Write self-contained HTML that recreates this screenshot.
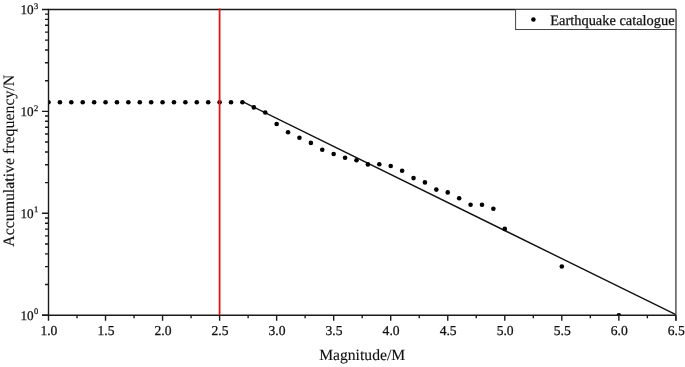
<!DOCTYPE html><html><head><meta charset="utf-8"><style>html,body{margin:0;padding:0;background:#fff;width:685px;height:367px;overflow:hidden}svg{display:block}text{font-family:"Liberation Serif","Times New Roman",serif;fill:#111;stroke:#111;stroke-width:0.25px;text-rendering:geometricPrecision}</style></head><body>
<svg width="685" height="367" viewBox="0 0 685 367">
<defs><clipPath id="c"><rect x="48.5" y="9.5" width="627.385" height="305.7"/></clipPath></defs>
<line x1="242.1" y1="101.4" x2="675.885" y2="314.7" stroke="#111" stroke-width="1.4"/>
<g clip-path="url(#c)" fill="#000">
<circle cx="48.50" cy="102.20" r="2.3"/>
<circle cx="59.91" cy="102.20" r="2.3"/>
<circle cx="71.31" cy="102.20" r="2.3"/>
<circle cx="82.72" cy="102.20" r="2.3"/>
<circle cx="94.13" cy="102.20" r="2.3"/>
<circle cx="105.53" cy="102.20" r="2.3"/>
<circle cx="116.94" cy="102.20" r="2.3"/>
<circle cx="128.35" cy="102.20" r="2.3"/>
<circle cx="139.76" cy="102.20" r="2.3"/>
<circle cx="151.16" cy="102.20" r="2.3"/>
<circle cx="162.57" cy="102.20" r="2.3"/>
<circle cx="173.98" cy="102.20" r="2.3"/>
<circle cx="185.38" cy="102.20" r="2.3"/>
<circle cx="196.79" cy="102.20" r="2.3"/>
<circle cx="208.20" cy="102.20" r="2.3"/>
<circle cx="219.60" cy="102.20" r="2.3"/>
<circle cx="231.01" cy="102.20" r="2.3"/>
<circle cx="242.42" cy="102.20" r="2.3"/>
<circle cx="253.83" cy="107.40" r="2.3"/>
<circle cx="265.23" cy="112.50" r="2.3"/>
<circle cx="276.64" cy="124.00" r="2.3"/>
<circle cx="288.05" cy="132.20" r="2.3"/>
<circle cx="299.45" cy="137.70" r="2.3"/>
<circle cx="310.86" cy="142.90" r="2.3"/>
<circle cx="322.27" cy="149.70" r="2.3"/>
<circle cx="333.67" cy="154.00" r="2.3"/>
<circle cx="345.08" cy="157.70" r="2.3"/>
<circle cx="356.49" cy="160.30" r="2.3"/>
<circle cx="367.90" cy="164.40" r="2.3"/>
<circle cx="379.30" cy="164.20" r="2.3"/>
<circle cx="390.71" cy="166.00" r="2.3"/>
<circle cx="402.12" cy="170.70" r="2.3"/>
<circle cx="413.52" cy="178.10" r="2.3"/>
<circle cx="424.93" cy="182.40" r="2.3"/>
<circle cx="436.34" cy="189.60" r="2.3"/>
<circle cx="447.75" cy="192.40" r="2.3"/>
<circle cx="459.15" cy="198.30" r="2.3"/>
<circle cx="470.56" cy="204.80" r="2.3"/>
<circle cx="481.97" cy="204.70" r="2.3"/>
<circle cx="493.37" cy="208.80" r="2.3"/>
<circle cx="504.78" cy="228.90" r="2.3"/>
<circle cx="561.81" cy="266.50" r="2.3"/>
<circle cx="618.85" cy="315.20" r="2.3"/>
</g>
<path d="M48.5 315.2V9.5H675.885" fill="none" stroke="#1a1a1a" stroke-width="1.4"/>
<line x1="675.9" y1="9.5" x2="675.9" y2="320.8" stroke="#555" stroke-width="1.5"/>
<line x1="42.0" y1="315.2" x2="675.885" y2="315.2" stroke="#1a1a1a" stroke-width="1.4"/>
<path d="M48.50 315.2v5.6M105.53 315.2v5.6M162.57 315.2v5.6M219.60 315.2v5.6M276.64 315.2v5.6M333.67 315.2v5.6M390.71 315.2v5.6M447.75 315.2v5.6M504.78 315.2v5.6M561.81 315.2v5.6M618.85 315.2v5.6M675.88 315.2v5.6M77.02 315.2v3M134.05 315.2v3M191.09 315.2v3M248.12 315.2v3M305.16 315.2v3M362.19 315.2v3M419.23 315.2v3M476.26 315.2v3M533.30 315.2v3M590.33 315.2v3M647.37 315.2v3M48.5 315.20h-6.5M48.5 284.53h-3.5M48.5 266.58h-3.5M48.5 253.85h-3.5M48.5 243.97h-3.5M48.5 235.91h-3.5M48.5 229.08h-3.5M48.5 223.18h-3.5M48.5 217.96h-3.5M48.5 213.30h-6.5M48.5 182.63h-3.5M48.5 164.68h-3.5M48.5 151.95h-3.5M48.5 142.07h-3.5M48.5 134.01h-3.5M48.5 127.18h-3.5M48.5 121.28h-3.5M48.5 116.06h-3.5M48.5 111.40h-6.5M48.5 80.73h-3.5M48.5 62.78h-3.5M48.5 50.05h-3.5M48.5 40.17h-3.5M48.5 32.11h-3.5M48.5 25.28h-3.5M48.5 19.38h-3.5M48.5 14.16h-3.5M48.5 9.50h-6.5" stroke="#1a1a1a" stroke-width="1.4" fill="none"/>
<line x1="219.605" y1="8.5" x2="219.605" y2="315.2" stroke="#e8141a" stroke-width="1.8"/>
<text x="48.90" y="335.3" font-size="13.6" text-anchor="middle">1.0</text>
<text x="105.94" y="335.3" font-size="13.6" text-anchor="middle">1.5</text>
<text x="162.97" y="335.3" font-size="13.6" text-anchor="middle">2.0</text>
<text x="220.00" y="335.3" font-size="13.6" text-anchor="middle">2.5</text>
<text x="277.04" y="335.3" font-size="13.6" text-anchor="middle">3.0</text>
<text x="334.07" y="335.3" font-size="13.6" text-anchor="middle">3.5</text>
<text x="391.11" y="335.3" font-size="13.6" text-anchor="middle">4.0</text>
<text x="448.14" y="335.3" font-size="13.6" text-anchor="middle">4.5</text>
<text x="505.18" y="335.3" font-size="13.6" text-anchor="middle">5.0</text>
<text x="562.21" y="335.3" font-size="13.6" text-anchor="middle">5.5</text>
<text x="619.25" y="335.3" font-size="13.6" text-anchor="middle">6.0</text>
<text x="676.28" y="335.3" font-size="13.6" text-anchor="middle">6.5</text>
<text x="33.6" y="319.60" font-size="13.2" text-anchor="end">10</text><text x="33.9" y="314.30" font-size="8.5">0</text>
<text x="33.6" y="217.70" font-size="13.2" text-anchor="end">10</text><text x="33.9" y="212.40" font-size="8.5">1</text>
<text x="33.6" y="115.80" font-size="13.2" text-anchor="end">10</text><text x="33.9" y="110.50" font-size="8.5">2</text>
<text x="33.6" y="13.90" font-size="13.2" text-anchor="end">10</text><text x="33.9" y="8.60" font-size="8.5">3</text>
<text x="362.15" y="359.7" font-size="15.65" text-anchor="middle" style="stroke-width:0.12px">Magnitude/M</text>
<text transform="translate(13.7 160.8) rotate(-90)" font-size="15.85" text-anchor="middle" style="stroke-width:0.12px">Accumulative frequency/N</text>
<rect x="515.6" y="9.5" width="160.28499999999997" height="20" fill="#fff" stroke="#444" stroke-width="1"/>
<circle cx="533.4" cy="19.6" r="2.25" fill="#000"/>
<text x="550.3" y="24.6" font-size="14.4">Earthquake catalogue</text>
</svg></body></html>
